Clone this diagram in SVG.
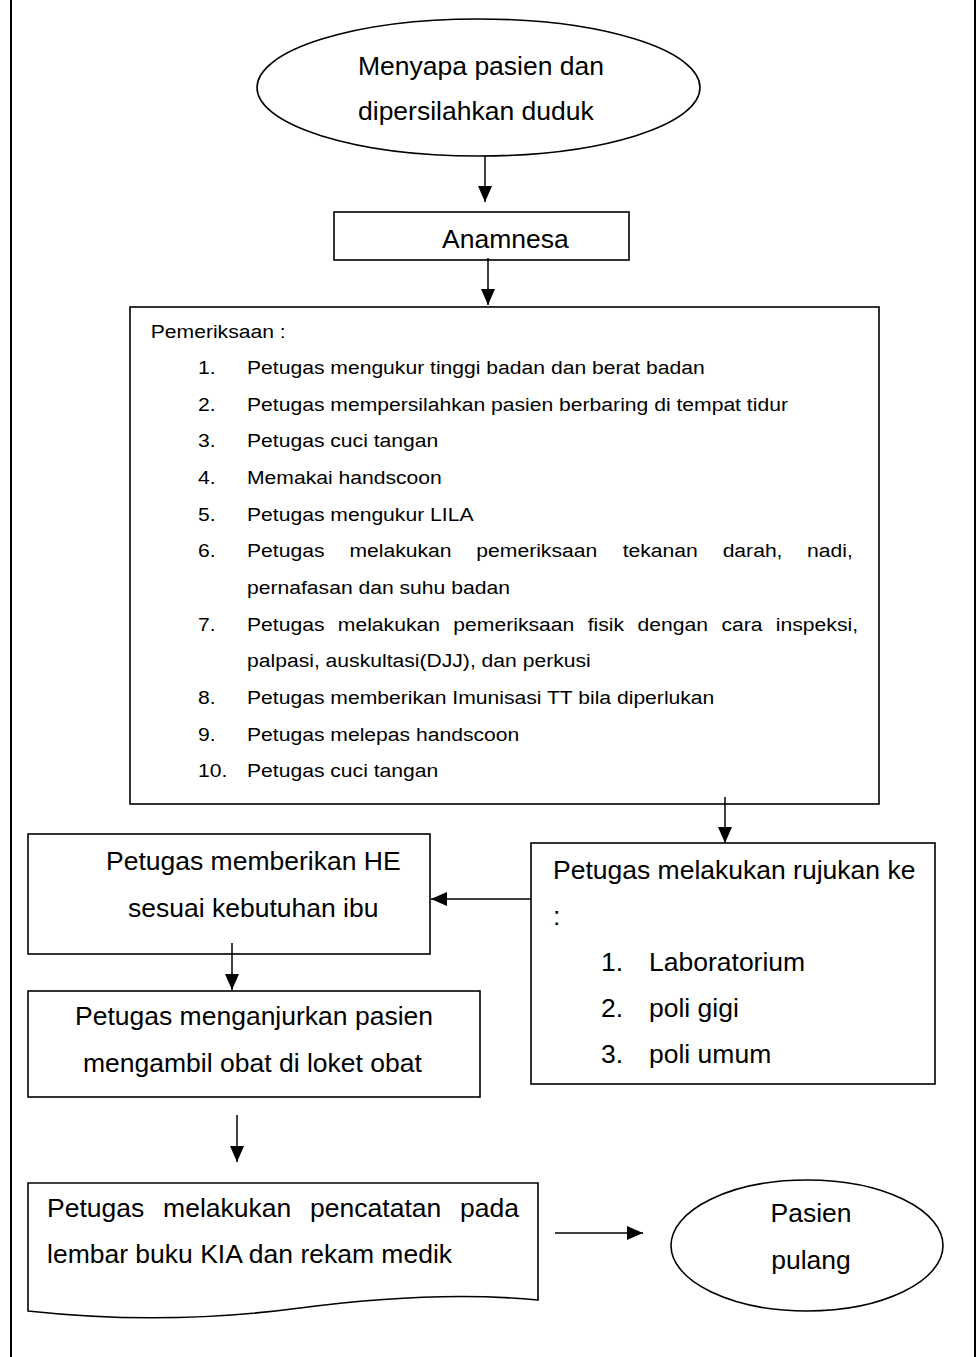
<svg xmlns="http://www.w3.org/2000/svg" width="980" height="1357" viewBox="0 0 980 1357">
<style>
.s{fill:none;stroke:#000;stroke-width:1.6}
.t{font-family:"Liberation Sans",Arial,sans-serif;font-size:26.5px;fill:#000}
.l{font-family:"Liberation Sans",Arial,sans-serif;font-size:19.2px;fill:#000}
.c{fill:none;stroke:#000;stroke-width:1.5}
</style>
<defs>
<marker id="ah" viewBox="0 0 16 16" refX="16" refY="8" markerWidth="16" markerHeight="16" markerUnits="userSpaceOnUse" orient="auto">
<path d="M0,1 L16,8 L0,15 z" fill="#000"/>
</marker>
</defs>
<rect width="980" height="1357" fill="#fff"/>
<g id="frame">
<line x1="11" y1="0" x2="11" y2="1357" stroke="#000" stroke-width="2"/>
<line x1="975" y1="0" x2="975" y2="1357" stroke="#000" stroke-width="2"/>
</g>
<g id="start">
<ellipse class="s" cx="478.5" cy="87.5" rx="221.5" ry="68.5"/>
<text class="t" x="358" y="75">Menyapa pasien dan</text>
<text class="t" x="358" y="120">dipersilahkan duduk</text>
</g>
<g id="anamnesa">
<rect class="s" x="334" y="212" width="295" height="48"/>
<text class="t" x="442" y="248">Anamnesa</text>
</g>
<g id="pemeriksaan">
<rect class="s" x="130" y="307" width="749" height="497"/>
<g transform="matrix(1.1 0 0 1 -24.7 0)">
<text class="l" x="159.5" y="338">Pemeriksaan :</text>
<text class="l" x="202.5" y="374">1.</text>
<text class="l" x="247" y="374">Petugas mengukur tinggi badan dan berat badan</text>
<text class="l" x="202.5" y="410.7">2.</text>
<text class="l" x="247" y="410.7">Petugas mempersilahkan pasien berbaring di tempat tidur</text>
<text class="l" x="202.5" y="447.3">3.</text>
<text class="l" x="247" y="447.3">Petugas cuci tangan</text>
<text class="l" x="202.5" y="484">4.</text>
<text class="l" x="247" y="484">Memakai handscoon</text>
<text class="l" x="202.5" y="520.7">5.</text>
<text class="l" x="247" y="520.7">Petugas mengukur LILA</text>
<text class="l" x="202.5" y="557.3">6.</text>
<text class="l" y="557.3"><tspan x="247">Petugas</tspan><tspan x="340.1">melakukan</tspan><tspan x="455.5">pemeriksaan</tspan><tspan x="588.5">tekanan</tspan><tspan x="679.4">darah,</tspan><tspan x="756.1">nadi,</tspan></text>
<text class="l" x="247" y="594">pernafasan dan suhu badan</text>
<text class="l" x="202.5" y="630.7">7.</text>
<text class="l" y="630.7"><tspan x="247">Petugas</tspan><tspan x="329.6">melakukan</tspan><tspan x="434.6">pemeriksaan</tspan><tspan x="556.7">fisik</tspan><tspan x="602">dengan</tspan><tspan x="678.3">cara</tspan><tspan x="727.8">inspeksi,</tspan></text>
<text class="l" x="247" y="667.3">palpasi, auskultasi(DJJ), dan perkusi</text>
<text class="l" x="202.5" y="704">8.</text>
<text class="l" x="247" y="704">Petugas memberikan Imunisasi TT bila diperlukan</text>
<text class="l" x="202.5" y="740.7">9.</text>
<text class="l" x="247" y="740.7">Petugas melepas handscoon</text>
<text class="l" x="202.5" y="777.3">10.</text>
<text class="l" x="247" y="777.3">Petugas cuci tangan</text>
</g>
</g>
<g id="rujukan">
<rect class="s" x="531" y="843" width="404" height="241"/>
<text class="t" x="553" y="879">Petugas melakukan rujukan ke</text>
<text class="t" x="553" y="925">:</text>
<text class="t" x="601" y="971">1.</text>
<text class="t" x="649" y="971">Laboratorium</text>
<text class="t" x="601" y="1017">2.</text>
<text class="t" x="649" y="1017">poli gigi</text>
<text class="t" x="601" y="1063">3.</text>
<text class="t" x="649" y="1063">poli umum</text>
</g>
<g id="he">
<rect class="s" x="28" y="834" width="402" height="120"/>
<text class="t" x="106" y="870">Petugas memberikan HE</text>
<text class="t" x="128" y="917">sesuai kebutuhan ibu</text>
</g>
<g id="obat">
<rect class="s" x="28" y="991" width="452" height="106"/>
<text class="t" x="75" y="1025">Petugas menganjurkan pasien</text>
<text class="t" x="83" y="1072">mengambil obat di loket obat</text>
</g>
<g id="pencatatan">
<path class="s" d="M28,1311 L28,1183 L538,1183 L538,1300 Q435,1290 300,1308 Q165,1326 28,1311 z"/>
<text class="t" y="1217"><tspan x="47">Petugas</tspan><tspan x="163.1">melakukan</tspan><tspan x="310.1">pencatatan</tspan><tspan x="460.1">pada</tspan></text>
<text class="t" x="47" y="1263">lembar buku KIA dan rekam medik</text>
</g>
<g id="pulang">
<ellipse class="s" cx="807" cy="1245.5" rx="136" ry="65.5"/>
<text class="t" x="811" y="1222" text-anchor="middle">Pasien</text>
<text class="t" x="811" y="1269" text-anchor="middle">pulang</text>
</g>
<g id="connectors">
<line class="c" x1="485" y1="156" x2="485" y2="202" marker-end="url(#ah)"/>
<line class="c" x1="488" y1="258" x2="488" y2="305" marker-end="url(#ah)"/>
<line class="c" x1="725" y1="797" x2="725" y2="843" marker-end="url(#ah)"/>
<line class="c" x1="531" y1="899" x2="431" y2="899" marker-end="url(#ah)"/>
<line class="c" x1="232" y1="943" x2="232" y2="990" marker-end="url(#ah)"/>
<line class="c" x1="237" y1="1115" x2="237" y2="1162" marker-end="url(#ah)"/>
<line class="c" x1="555" y1="1233" x2="643" y2="1233" marker-end="url(#ah)"/>
</g>
</svg>
